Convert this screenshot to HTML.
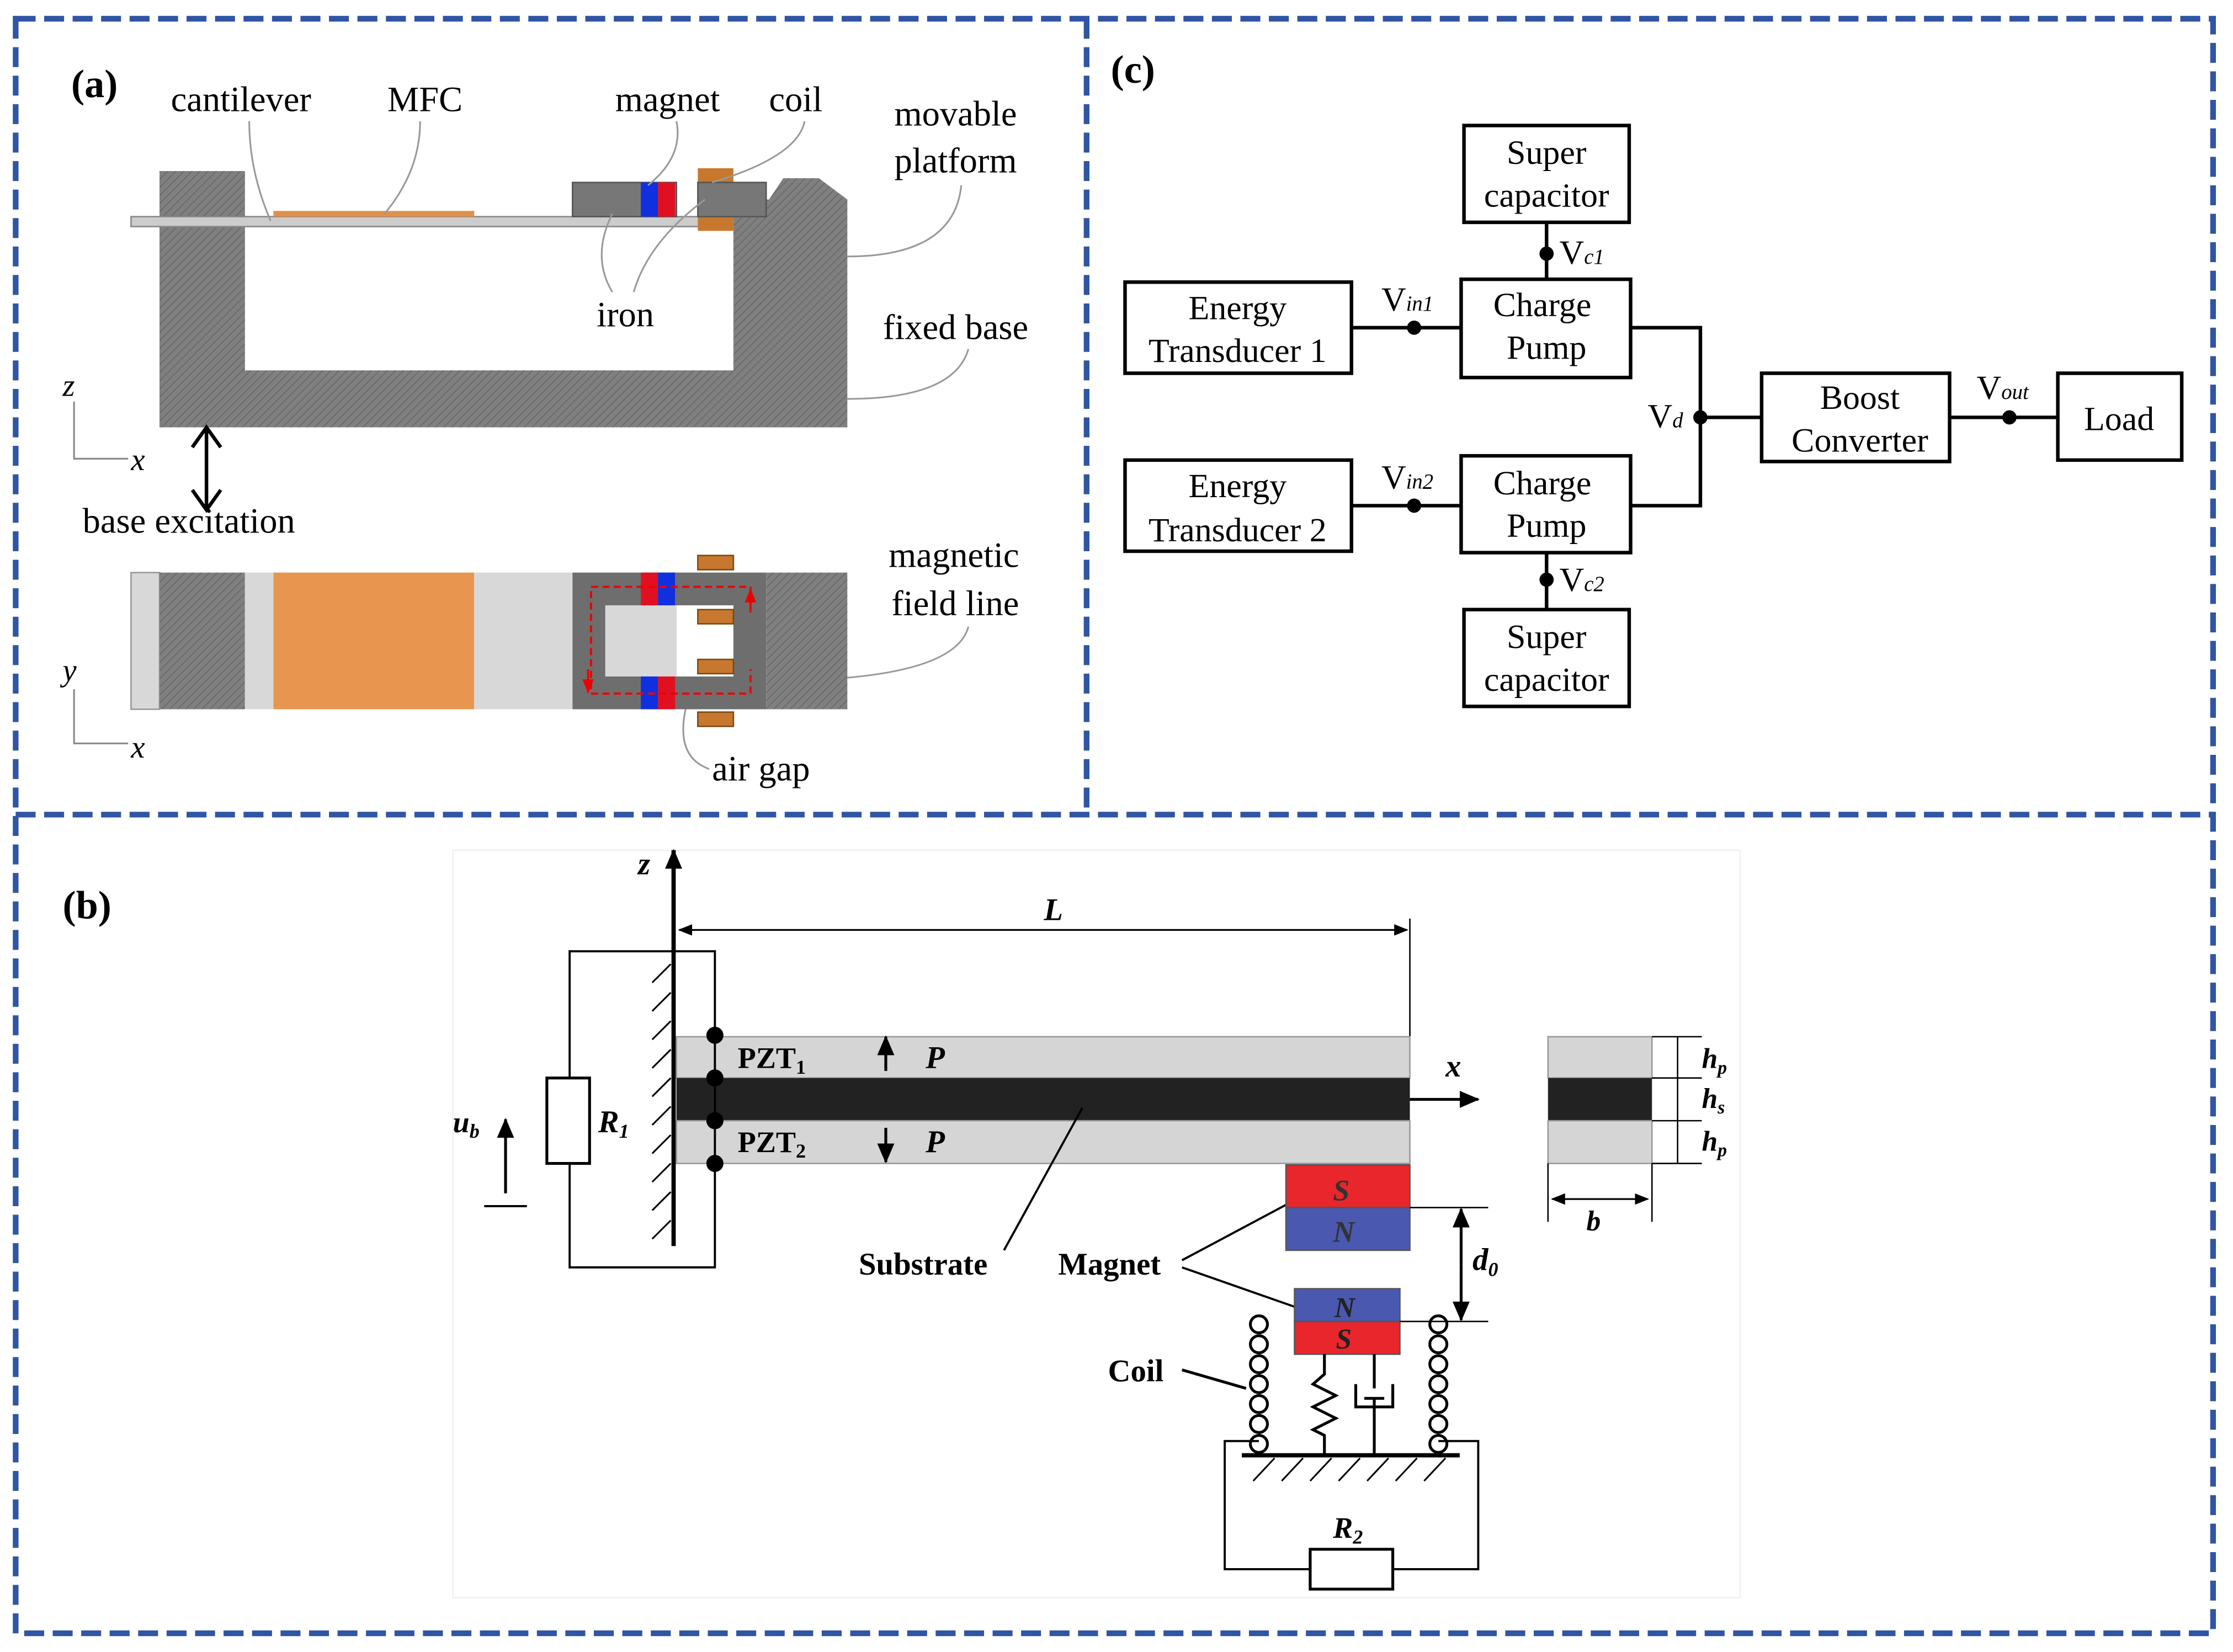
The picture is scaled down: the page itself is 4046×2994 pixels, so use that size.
<!DOCTYPE html>
<html><head><meta charset="utf-8"><style>
html,body{margin:0;padding:0;background:#fff;}
svg{display:block;}
text{font-family:"Liberation Serif",serif;}
</style></head><body>
<svg width="4046" height="2994" viewBox="0 0 1568 1160" xmlns="http://www.w3.org/2000/svg">
<defs>
<pattern id="h" width="4" height="4" patternUnits="userSpaceOnUse" patternTransform="rotate(45)">
<rect width="4" height="4" fill="#808080"/><line x1="0" y1="0" x2="0" y2="4" stroke="#666" stroke-width="1.2"/></pattern>
<marker id="ar" markerWidth="10" markerHeight="10" refX="9" refY="5" orient="auto" markerUnits="userSpaceOnUse"><path d="M0,1 L10,5 L0,9 Z" fill="#000"/></marker>
<marker id="arb" markerWidth="14" markerHeight="14" refX="13" refY="7" orient="auto" markerUnits="userSpaceOnUse"><path d="M0,1 L14,7 L0,13 Z" fill="#000"/></marker>
<marker id="arr" markerWidth="10" markerHeight="10" refX="9" refY="5" orient="auto" markerUnits="userSpaceOnUse"><path d="M0,1 L10,5 L0,9 Z" fill="#e00"/></marker>
</defs>
<rect width="1568" height="1160" fill="#fff"/>
<g fill="none" stroke="#2f55a4" stroke-width="4" stroke-dasharray="14,6">
<rect x="11" y="13" width="1543" height="1134"/>
<line x1="11" y1="572" x2="1554" y2="572"/>
<line x1="763" y1="13" x2="763" y2="572"/>
</g>
<!-- panel (a) -->
<text x="50" y="68" font-size="28" font-weight="bold">(a)</text>
<g font-size="25">
<text x="120" y="78">cantilever</text><text x="272" y="78">MFC</text>
<text x="432" y="78">magnet</text><text x="540" y="78">coil</text>
<text x="628" y="88">movable</text><text x="628" y="121">platform</text>
<text x="419" y="229">iron</text><text x="620" y="238">fixed base</text>
<text x="58" y="374">base excitation</text>
<text x="624" y="398">magnetic</text><text x="626" y="432">field line</text>
<text x="500" y="548">air gap</text>
</g>
<path d="M112,120 H172 V260 H515 V140 H540 L550,125 H575 L595,140 V300 H112 Z" fill="url(#h)"/>
<rect x="92" y="152" width="423" height="7" fill="#ccc" stroke="#888" stroke-width="1"/>
<rect x="192" y="148" width="141" height="4" fill="#e0914a"/>
<rect x="402" y="128" width="73" height="24" fill="#777" stroke="#555"/>
<rect x="450" y="128" width="12" height="24" fill="#1030e0"/><rect x="462" y="128" width="12" height="24" fill="#e01020"/>
<rect x="490" y="118" width="25" height="10" fill="#c8782e"/><rect x="490" y="152" width="25" height="10" fill="#c8782e"/>
<rect x="490" y="128" width="48" height="24" fill="#777" stroke="#555"/>
<g fill="none" stroke="#999" stroke-width="1.2">
<path d="M190,155 Q175,120 175,85"/><path d="M270,150 Q295,120 295,85"/>
<path d="M455,130 Q480,110 475,85"/><path d="M500,128 Q560,110 565,85"/>
<path d="M430,150 Q415,180 430,205"/><path d="M495,140 Q455,170 445,205"/>
<path d="M595,180 Q670,180 675,130"/><path d="M595,280 Q670,280 680,245"/>
<path d="M540,478 Q670,478 680,440"/><path d="M485,485 Q470,530 498,540"/>
</g>
<g stroke="#888" stroke-width="1.2" fill="none">
<path d="M52,282 V322 H90"/><path d="M52,484 V522 H90"/>
</g>
<text x="44" y="278" font-size="22" font-style="italic">z</text><text x="92" y="330" font-size="22" font-style="italic">x</text>
<text x="44" y="478" font-size="22" font-style="italic">y</text><text x="92" y="532" font-size="22" font-style="italic">x</text>
<line x1="145" y1="302" x2="145" y2="356" stroke="#000" stroke-width="2.5"/>
<path d="M135,314 L145,300 L155,314 M135,344 L145,358 L155,344" fill="none" stroke="#000" stroke-width="2.5"/>
<rect x="92" y="402" width="20" height="96" fill="#d8d8d8" stroke="#999"/>
<rect x="112" y="402" width="60" height="96" fill="url(#h)"/>
<rect x="172" y="402" width="20" height="96" fill="#d8d8d8"/>
<rect x="192" y="402" width="141" height="96" fill="#e8964f"/>
<rect x="333" y="402" width="69" height="96" fill="#d8d8d8"/>
<rect x="402" y="402" width="136" height="96" fill="#6e6e6e"/>
<rect x="425" y="425" width="50" height="50" fill="#d8d8d8"/>
<rect x="475" y="425" width="40" height="50" fill="#fff"/>
<rect x="450" y="402" width="12" height="23" fill="#e01020"/><rect x="462" y="402" width="12" height="23" fill="#1030e0"/>
<rect x="450" y="475" width="12" height="23" fill="#1030e0"/><rect x="462" y="475" width="12" height="23" fill="#e01020"/>
<rect x="538" y="402" width="57" height="96" fill="url(#h)"/>
<g fill="#c8782e" stroke="#7a4a10" stroke-width="1">
<rect x="490" y="390" width="25" height="10"/><rect x="490" y="428" width="25" height="10"/>
<rect x="490" y="463" width="25" height="10"/><rect x="490" y="500" width="25" height="10"/>
</g>
<path d="M527,425 V412 H415 V487 H527 V470" fill="none" stroke="#e00" stroke-width="1.5" stroke-dasharray="5,3"/>
<path d="M527,430 V414" stroke="#e00" stroke-width="1.5" marker-end="url(#arr)"/>
<path d="M413,470 V486" stroke="#e00" stroke-width="1.5" marker-end="url(#arr)"/>
<!-- panel (c) -->
<text x="780" y="58" font-size="28" font-weight="bold">(c)</text>
<g fill="#fff" stroke="#000" stroke-width="2.5">
<rect x="1028" y="88" width="116" height="68"/><rect x="790" y="198" width="159" height="64"/>
<rect x="1026" y="196" width="119" height="69"/><rect x="1026" y="320" width="119" height="68"/>
<rect x="790" y="323" width="159" height="64"/><rect x="1028" y="428" width="116" height="68"/>
<rect x="1237" y="262" width="132" height="62"/><rect x="1445" y="262" width="87" height="61"/>
</g>
<g stroke="#000" stroke-width="2.5" fill="none">
<path d="M949,230 H1026"/><path d="M949,355 H1026"/>
<path d="M1145,230 H1194 V355 H1145"/><path d="M1194,293 H1237"/><path d="M1369,293 H1445"/>
<path d="M1086,156 V196"/><path d="M1086,388 V428"/>
</g>
<g fill="#000"><circle cx="993" cy="230" r="5"/><circle cx="993" cy="355" r="5"/><circle cx="1194" cy="293" r="5"/>
<circle cx="1411" cy="293" r="5"/><circle cx="1086" cy="178" r="5"/><circle cx="1086" cy="407" r="5"/></g>
<g font-size="24" text-anchor="middle">
<text x="1086" y="115">Super</text><text x="1086" y="145">capacitor</text>
<text x="869" y="224">Energy</text><text x="869" y="254">Transducer 1</text>
<text x="1083" y="222">Charge</text><text x="1086" y="252">Pump</text>
<text x="1083" y="347">Charge</text><text x="1086" y="377">Pump</text>
<text x="869" y="349">Energy</text><text x="869" y="380">Transducer 2</text>
<text x="1086" y="455">Super</text><text x="1086" y="485">capacitor</text>
<text x="1306" y="287">Boost</text><text x="1306" y="317">Converter</text>
<text x="1488" y="302">Load</text>
</g>
<g font-size="24">
<text x="970" y="218">V<tspan font-size="15" font-style="italic">in1</tspan></text>
<text x="970" y="343">V<tspan font-size="15" font-style="italic">in2</tspan></text>
<text x="1095" y="185">V<tspan font-size="15" font-style="italic">c1</tspan></text>
<text x="1095" y="415">V<tspan font-size="15" font-style="italic">c2</tspan></text>
<text x="1157" y="300">V<tspan font-size="15" font-style="italic">d</tspan></text>
<text x="1388" y="280">V<tspan font-size="15" font-style="italic">out</tspan></text>
</g>
<!-- panel (b) -->
<text x="44" y="645" font-size="28" font-weight="bold">(b)</text>
<rect x="318" y="597" width="904" height="525" fill="none" stroke="#f0f0f0" stroke-width="1"/>
<line x1="473" y1="875" x2="473" y2="597" stroke="#000" stroke-width="3" marker-end="url(#arb)"/>
<text x="448" y="614" font-size="22" font-style="italic" font-weight="bold">z</text>
<g stroke="#000" stroke-width="1.2">
<line x1="458" y1="690" x2="471" y2="677"/><line x1="458" y1="710" x2="471" y2="697"/><line x1="458" y1="730" x2="471" y2="717"/>
<line x1="458" y1="750" x2="471" y2="737"/><line x1="458" y1="770" x2="471" y2="757"/><line x1="458" y1="790" x2="471" y2="777"/>
<line x1="458" y1="810" x2="471" y2="797"/><line x1="458" y1="830" x2="471" y2="817"/><line x1="458" y1="850" x2="471" y2="837"/>
<line x1="458" y1="870" x2="471" y2="857"/>
</g>
<line x1="990" y1="645" x2="990" y2="728" stroke="#000" stroke-width="1"/>
<line x1="477" y1="653" x2="988" y2="653" stroke="#000" stroke-width="1.2" marker-end="url(#ar)"/>
<line x1="988" y1="653" x2="477" y2="653" stroke="#000" stroke-width="1.2" marker-end="url(#ar)"/>
<text x="733" y="646" font-size="22" font-style="italic" font-weight="bold">L</text>
<rect x="475" y="728" width="515" height="29" fill="#d5d5d5" stroke="#999"/>
<rect x="475" y="757" width="515" height="30" fill="#222"/>
<rect x="475" y="787" width="515" height="30" fill="#d5d5d5" stroke="#999"/>
<line x1="990" y1="772" x2="1038" y2="772" stroke="#000" stroke-width="2" marker-end="url(#arb)"/>
<text x="1015" y="756" font-size="22" font-style="italic" font-weight="bold">x</text>
<g font-size="21" font-weight="bold"><text x="518" y="750">PZT<tspan font-size="14" dy="4">1</tspan></text>
<text x="518" y="809">PZT<tspan font-size="14" dy="4">2</tspan></text></g>
<line x1="622" y1="752" x2="622" y2="728" stroke="#000" stroke-width="2" marker-end="url(#arb)"/>
<line x1="622" y1="792" x2="622" y2="816" stroke="#000" stroke-width="2" marker-end="url(#arb)"/>
<text x="650" y="750" font-size="22" font-style="italic" font-weight="bold">P</text>
<text x="650" y="809" font-size="22" font-style="italic" font-weight="bold">P</text>
<path d="M400,757 V668 H502 V890 H400 V817" fill="none" stroke="#000" stroke-width="1.5"/>
<rect x="384" y="757" width="30" height="60" fill="#fff" stroke="#000" stroke-width="2"/>
<text x="420" y="795" font-size="22" font-style="italic" font-weight="bold">R<tspan font-size="14" dy="4">1</tspan></text>
<g fill="#000"><circle cx="502" cy="727" r="6"/><circle cx="502" cy="757" r="6"/><circle cx="502" cy="787" r="6"/><circle cx="502" cy="817" r="6"/></g>
<line x1="355" y1="838" x2="355" y2="786" stroke="#000" stroke-width="2" marker-end="url(#arb)"/>
<line x1="340" y1="847" x2="370" y2="847" stroke="#000" stroke-width="1.5"/>
<text x="318" y="795" font-size="21" font-style="italic" font-weight="bold">u<tspan font-size="14" dy="4">b</tspan></text>
<line x1="705" y1="878" x2="760" y2="778" stroke="#000" stroke-width="1.5"/>
<text x="603" y="895" font-size="22" font-weight="bold">Substrate</text>
<text x="743" y="895" font-size="22" font-weight="bold">Magnet</text>
<path d="M830,885 L905,845 M830,890 L910,918" stroke="#000" stroke-width="1.5" fill="none"/>
<rect x="903" y="818" width="87" height="30" fill="#e8262c" stroke="#555"/>
<rect x="903" y="848" width="87" height="30" fill="#4a58b0" stroke="#555"/>
<text x="936" y="843" font-size="21" font-style="italic" font-weight="bold" fill="#333">S</text>
<text x="936" y="872" font-size="21" font-style="italic" font-weight="bold" fill="#333">N</text>
<rect x="909" y="905" width="74" height="23" fill="#4a58b0" stroke="#555"/>
<rect x="909" y="928" width="74" height="23" fill="#e8262c" stroke="#555"/>
<text x="937" y="925" font-size="20" font-style="italic" font-weight="bold" fill="#222">N</text>
<text x="938" y="947" font-size="20" font-style="italic" font-weight="bold" fill="#222">S</text>
<line x1="990" y1="848" x2="1045" y2="848" stroke="#000" stroke-width="1"/>
<line x1="983" y1="928" x2="1045" y2="928" stroke="#000" stroke-width="1"/>
<line x1="1026" y1="888" x2="1026" y2="849" stroke="#000" stroke-width="2" marker-end="url(#arb)"/>
<line x1="1026" y1="888" x2="1026" y2="927" stroke="#000" stroke-width="2" marker-end="url(#arb)"/>
<text x="1034" y="892" font-size="22" font-style="italic" font-weight="bold">d<tspan font-size="14" dy="4">0</tspan></text>
<g fill="none" stroke="#000" stroke-width="2">
<circle cx="884" cy="930" r="6"/><circle cx="884" cy="944" r="6"/><circle cx="884" cy="958" r="6"/><circle cx="884" cy="972" r="6"/><circle cx="884" cy="986" r="6"/><circle cx="884" cy="1000" r="6"/><circle cx="884" cy="1014" r="6"/>
<circle cx="1010" cy="930" r="6"/><circle cx="1010" cy="944" r="6"/><circle cx="1010" cy="958" r="6"/><circle cx="1010" cy="972" r="6"/><circle cx="1010" cy="986" r="6"/><circle cx="1010" cy="1000" r="6"/><circle cx="1010" cy="1014" r="6"/>
<path d="M930,951 V965 L922,972 L938,980 L922,988 L938,996 L922,1004 L930,1008 V1022"/>
<path d="M965,951 V975 M952,972 V988 H978 V972 M958,982 H972 M965,982 V1022"/>
<path d="M830,962 L875,975"/>
</g>
<text x="778" y="970" font-size="22" font-weight="bold">Coil</text>
<line x1="872" y1="1022" x2="1025" y2="1022" stroke="#000" stroke-width="3"/>
<g stroke="#000" stroke-width="1.2">
<line x1="880" y1="1040" x2="895" y2="1024"/><line x1="900" y1="1040" x2="915" y2="1024"/><line x1="920" y1="1040" x2="935" y2="1024"/>
<line x1="940" y1="1040" x2="955" y2="1024"/><line x1="960" y1="1040" x2="975" y2="1024"/><line x1="980" y1="1040" x2="995" y2="1024"/>
<line x1="1000" y1="1040" x2="1015" y2="1024"/>
</g>
<path d="M884,1012 H860 V1102 H920 M978,1102 H1038 V1012 H1010" fill="none" stroke="#000" stroke-width="1.5"/>
<rect x="920" y="1088" width="58" height="28" fill="#fff" stroke="#000" stroke-width="2"/>
<text x="936" y="1080" font-size="21" font-style="italic" font-weight="bold">R<tspan font-size="14" dy="4">2</tspan></text>
<rect x="1087" y="728" width="73" height="29" fill="#d5d5d5" stroke="#999"/>
<rect x="1087" y="757" width="73" height="30" fill="#222"/>
<rect x="1087" y="787" width="73" height="30" fill="#d5d5d5" stroke="#999"/>
<g stroke="#000" stroke-width="1">
<line x1="1160" y1="728" x2="1195" y2="728"/><line x1="1160" y1="757" x2="1195" y2="757"/><line x1="1160" y1="787" x2="1195" y2="787"/><line x1="1160" y1="817" x2="1195" y2="817"/>
<line x1="1087" y1="817" x2="1087" y2="858"/><line x1="1160" y1="817" x2="1160" y2="858"/>
<line x1="1178" y1="728" x2="1178" y2="817"/>
</g>
<line x1="1090" y1="842" x2="1157" y2="842" stroke="#000" stroke-width="1.2" marker-end="url(#ar)"/>
<line x1="1157" y1="842" x2="1090" y2="842" stroke="#000" stroke-width="1.2" marker-end="url(#ar)"/>
<text x="1114" y="864" font-size="20" font-style="italic" font-weight="bold">b</text>
<g font-size="20" font-style="italic" font-weight="bold">
<text x="1195" y="750">h<tspan font-size="13" dy="4">p</tspan></text>
<text x="1195" y="778">h<tspan font-size="13" dy="4">s</tspan></text>
<text x="1195" y="808">h<tspan font-size="13" dy="4">p</tspan></text>
</g>
</svg>
</body></html>
